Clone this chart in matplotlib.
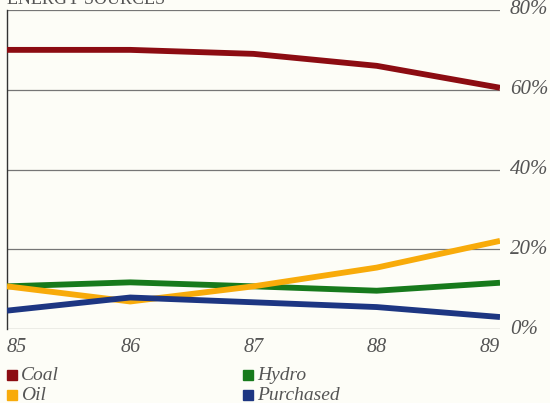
import matplotlib.pyplot as plt
from matplotlib.patches import Rectangle

# Energy source shares, 1985-1989
years = ['85', '86', '87', '88', '89']
coal = [70, 70, 69, 66, 60.5]
oil = [10.7, 6.9, 10.7, 15.4, 22.1]
hydro = [10.7, 11.7, 10.7, 9.6, 11.6]
purchased = [4.6, 7.9, 6.7, 5.5, 3.0]
pct_ticks = [0, 20, 40, 60, 80]

series = [('Coal', coal, '#8c0c12'), ('Hydro', hydro, '#177a1c'),
          ('Oil', oil, '#f8ab0a'), ('Purchased', purchased, '#1d3682')]

bg = '#fdfdf7'
txt = '#555555'
serif = ['Liberation Serif', 'DejaVu Serif']

fig = plt.figure(figsize=(5.5, 4.03), dpi=100, facecolor=bg)
ax = fig.add_axes([7 / 550, 74 / 403, 493 / 550, 319 / 403], facecolor=bg)

x = list(range(len(years)))
for name, vals, col in series:
    ax.plot(x, vals, color=col, lw=4.2, solid_capstyle='butt', zorder=3)

ax.set_xlim(0, len(years) - 1)
ax.set_ylim(0, 80)

# horizontal rules with labels on the right
for v in pct_ticks:
    ax.axhline(v, color='#767676', lw=0.9, zorder=1)
    ax.text(1.02, v, f'{v}%', transform=ax.get_yaxis_transform(), ha='left',
            va='center', fontsize=15, style='italic', color=txt, family=serif)

ax.set_xticks([])
ax.set_yticks([])
for s in ['top', 'right', 'bottom']:
    ax.spines[s].set_visible(False)
ax.spines['left'].set_color('#333333')
ax.spines['left'].set_linewidth(1.0)

# year labels: outer ones flush with the ends
for i, y in enumerate(years):
    ha = 'left' if i == 0 else ('right' if i == len(years) - 1 else 'center')
    ax.text(i, -2.2, y, ha=ha, va='top', fontsize=14.5, style='italic',
            color=txt, family=serif)

fig.text(7 / 550, 1 - 4 / 403, 'ENERGY SOURCES', ha='left', va='baseline',
         fontsize=13, color=txt, family=serif)

# legend
legend_pos = {'Coal': (7, 375), 'Oil': (7, 395), 'Hydro': (243, 375), 'Purchased': (243, 395)}
for name, vals, col in series:
    px, py = legend_pos[name]
    fig.patches.append(Rectangle((px / 550, 1 - (py + 5) / 403), 10 / 550, 10 / 403,
                                 transform=fig.transFigure, color=col))
    fig.text((px + 14) / 550, 1 - py / 403, name, ha='left', va='center',
             fontsize=14, style='italic', color=txt, family=serif)

fig.savefig('out.png', dpi=100, facecolor=bg)
